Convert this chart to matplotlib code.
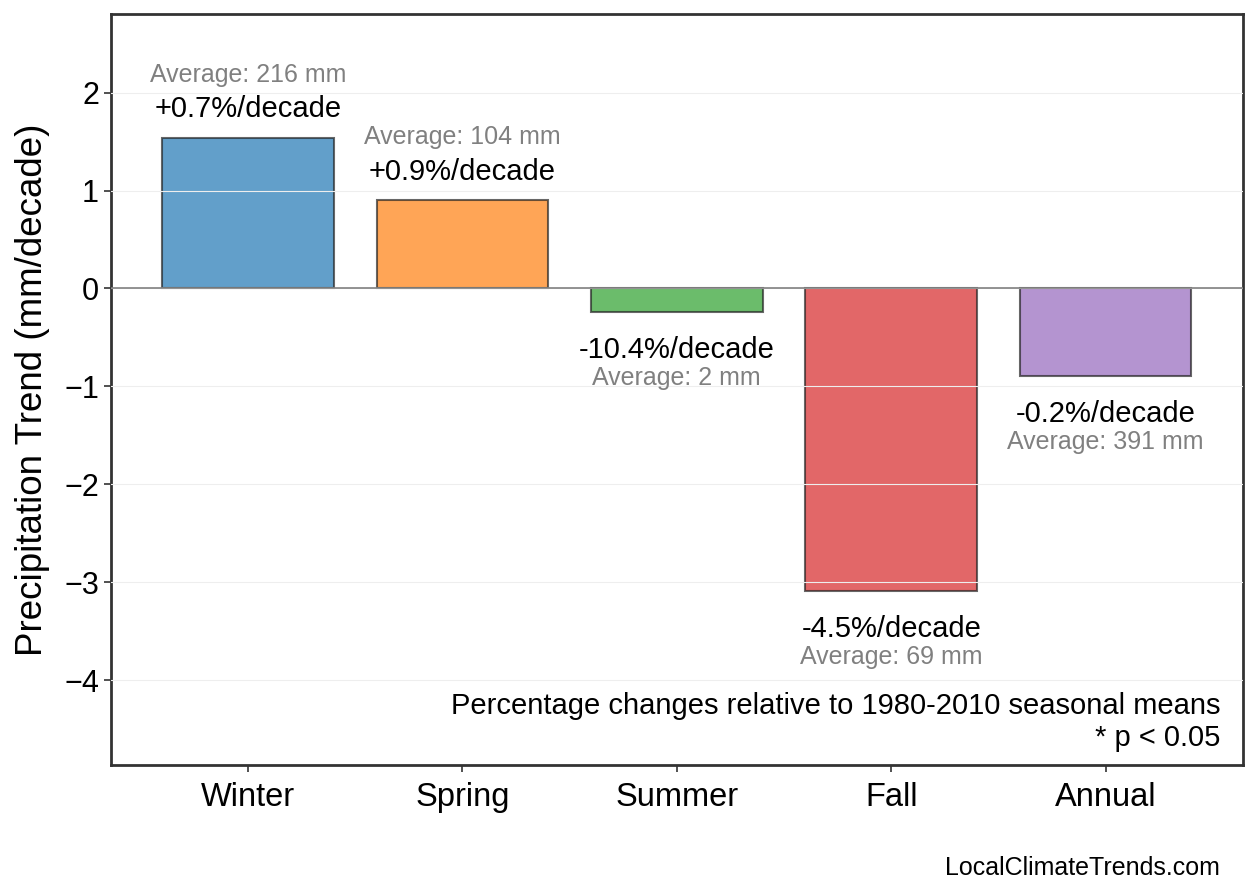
import matplotlib
matplotlib.use('Agg')
import matplotlib.pyplot as plt
import numpy as np

plt.rcParams['font.family'] = ['Liberation Sans', 'DejaVu Sans']

seasons = ['Winter', 'Spring', 'Summer', 'Fall', 'Annual']
trends = [1.54, 0.90, -0.24, -3.09, -0.89]   # mm/decade
pct = ['+0.7%/decade', '+0.9%/decade', '-10.4%/decade', '-4.5%/decade', '-0.2%/decade']
averages = [216, 104, 2, 69, 391]            # mm
colors = ['#1f77b4', '#ff7f0e', '#2ca02c', '#d62728', '#9467bd']

fig, ax = plt.subplots(figsize=(12.58, 8.93), dpi=100)
fig.subplots_adjust(left=0.088, right=0.988, top=0.984, bottom=0.143)

x = np.arange(len(seasons))
bars = ax.bar(x, trends, width=0.8, color=colors, alpha=0.7,
              edgecolor='#222222', linewidth=1.5, zorder=2)
for b in bars:
    b.set_edgecolor((0.15, 0.15, 0.15, 0.95))

ax.axhline(0, color='gray', linewidth=1.2, zorder=3)
ax.yaxis.grid(True, color='#eeeeee', linewidth=0.8, zorder=4)
ax.set_axisbelow(False)

# labels above/below bars
for xi, v, p, a in zip(x, trends, pct, averages):
    if v >= 0:
        ax.text(xi, v + 0.15, p, ha='center', va='bottom', fontsize=21, color='black')
        ax.text(xi, v + 0.52, f'Average: {a} mm', ha='center', va='bottom',
                fontsize=18, color='gray')
    else:
        ax.text(xi, v - 0.25, p, ha='center', va='top', fontsize=21, color='black')
        ax.text(xi, v - 0.555, f'Average: {a} mm', ha='center', va='top',
                fontsize=18, color='gray')

ax.text(0.98, 0.018, 'Percentage changes relative to 1980-2010 seasonal means\n* p < 0.05',
        transform=ax.transAxes, ha='right', va='bottom', fontsize=21,
        linespacing=1.15)

fig.text(0.97, 0.015, 'LocalClimateTrends.com', ha='right', va='bottom', fontsize=18)

ax.set_xticks(x)
ax.set_xticklabels(seasons, fontsize=23.5)
ax.tick_params(axis='x', pad=7)
ax.tick_params(axis='y', labelsize=22)
ax.tick_params(axis='both', length=5, width=1.2, color='#333333')
ax.set_ylabel('Precipitation Trend (mm/decade)', fontsize=26.5, labelpad=10)
ax.set_xlim(-0.64, 4.64)
ax.set_ylim(-4.87, 2.8)
ax.set_yticks([-4, -3, -2, -1, 0, 1, 2])

for s in ax.spines.values():
    s.set_linewidth(2)
    s.set_color('#333333')

fig.savefig('out.png', dpi=100)
